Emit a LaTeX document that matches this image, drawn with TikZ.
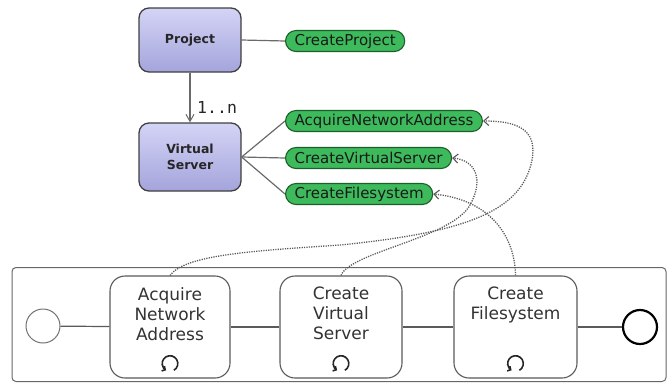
\documentclass[tikz,border=0pt]{standalone}
\usepackage{fontspec}
\setmainfont{DejaVu Sans}
\newfontfamily\monofnt{DejaVu Sans Mono}
\usetikzlibrary{arrows.meta}

\definecolor{entityTop}{HTML}{D4D4F6}
\definecolor{entityBot}{HTML}{A4A4DC}
\definecolor{opFill}{HTML}{3DBB5C}
\definecolor{opLine}{HTML}{1C5E2A}
\definecolor{edgeGray}{HTML}{6A6A6A}
\definecolor{taskLine}{HTML}{5A5A5A}

\tikzset{
  entity/.style={draw=black!75, line width=1.3pt, rounded corners=10pt,
    top color=entityTop, bottom color=entityBot, minimum width=102pt,
    align=center, font=\bfseries\fontsize{12.5}{16.5}\selectfont, text=black!85},
  opnode/.style={draw=opLine, line width=1.1pt, fill=opFill, rounded corners=10.5pt,
    minimum height=21pt, inner xsep=9pt, inner ysep=0pt, anchor=west,
    font=\fontsize{15}{16}\selectfont, text=black!90},
  link/.style={draw=edgeGray, line width=1.2pt},
  taskbox/.style={draw=taskLine, line width=1.1pt, fill=white, rounded corners=15pt,
    minimum height=102pt},
  tasktext/.style={anchor=north, inner sep=0pt, align=center,
    font=\fontsize{17}{20}\selectfont, text=black!80},
  flow/.style={draw=taskLine, line width=1.2pt},
  trace/.style={draw=black!65, line width=1.3pt, dash pattern=on 1.2pt off 1.2pt,
    -{Straight Barb[length=5pt,width=9pt,line width=1.1pt]}},
  loopmark/.style={draw=black!85, line width=1.6pt,
    -{Straight Barb[length=2.5pt,width=5.5pt]}},
  event/.style={circle, minimum size=34pt, inner sep=0pt, fill=white},
}

\begin{document}
\begin{tikzpicture}[x=1pt,y=-1pt]
\useasboundingbox (0,0) rectangle (671,384);

% entities
\node[entity, minimum height=64pt] (project) at (190,40) {Project};
\node[entity, minimum height=68pt] (vserver) at (190,157) {Virtual\\Server};
\draw[link, -{Straight Barb[length=7pt,width=8pt,line width=1pt]}] (project) -- (vserver);
\node[anchor=west, inner sep=0pt, font=\monofnt\fontsize{16.5}{18}\selectfont, text=black!85]
  (mult) at (197,107) {1..n};

% operations
\node[opnode] (cproj) at (285,41) {CreateProject};
\node[opnode] (acq) at (285,121) {AcquireNetworkAddress};
\node[opnode] (cvs) at (285,158) {CreateVirtualServer};
\node[opnode] (cfs) at (285,194) {CreateFilesystem};

\draw[link] (project.east) -- (cproj.west);
\draw[link] (vserver.east) -- (acq.west);
\draw[link] (vserver.east) -- (cvs.west);
\draw[link] (vserver.east) -- (cfs.west);

% process pool
\node[draw=black!60, line width=1pt, rounded corners=4pt, minimum width=654pt,
  minimum height=114pt] (pool) at (339,324.5) {};

\node[event, draw=black!55, line width=1pt] (start) at (43,326) {};
\node[event, draw=black, line width=2.2pt] (stop) at (640,327) {};

\node[taskbox, minimum width=120pt] (t1) at (170,327) {};
\node[taskbox, minimum width=122pt] (t2) at (341,327) {};
\node[taskbox, minimum width=123pt] (t3) at (515.5,327) {};

\node[tasktext] (t1txt) at (170,287) {Acquire\\Network\\Address};
\node[tasktext] (t2txt) at (341,287) {Create\\Virtual\\Server};
\node[tasktext] (t3txt) at (515.5,287) {Create\\Filesystem};

% loop markers
\foreach \t in {t1,t2,t3}{
  \draw[loopmark] ([yshift=15pt]\t.south) ++(3.9,6.75)
    arc[start angle=60, end angle=-240, radius=7.8];
}

\draw[flow] (start) -- (t1);
\draw[flow] (t1) -- (t2);
\draw[flow] (t2) -- (t3);
\draw[flow] (t3) -- (stop);

% task-to-operation traces
\draw[trace] (t1.north) .. controls (185,255) and (250,251) .. (340,245)
  .. controls (470,232) and (522,210) .. (532,160)
  .. controls (538,128) and (515,121) .. (acq.east);
\draw[trace] (t2.north) .. controls (350,252) and (452,238) .. (470,205)
  .. controls (484,180) and (476,160) .. (cvs.east);
\draw[trace] (t3.north) .. controls (515,238) and (492,200) .. (cfs.east);
\end{tikzpicture}
\end{document}
